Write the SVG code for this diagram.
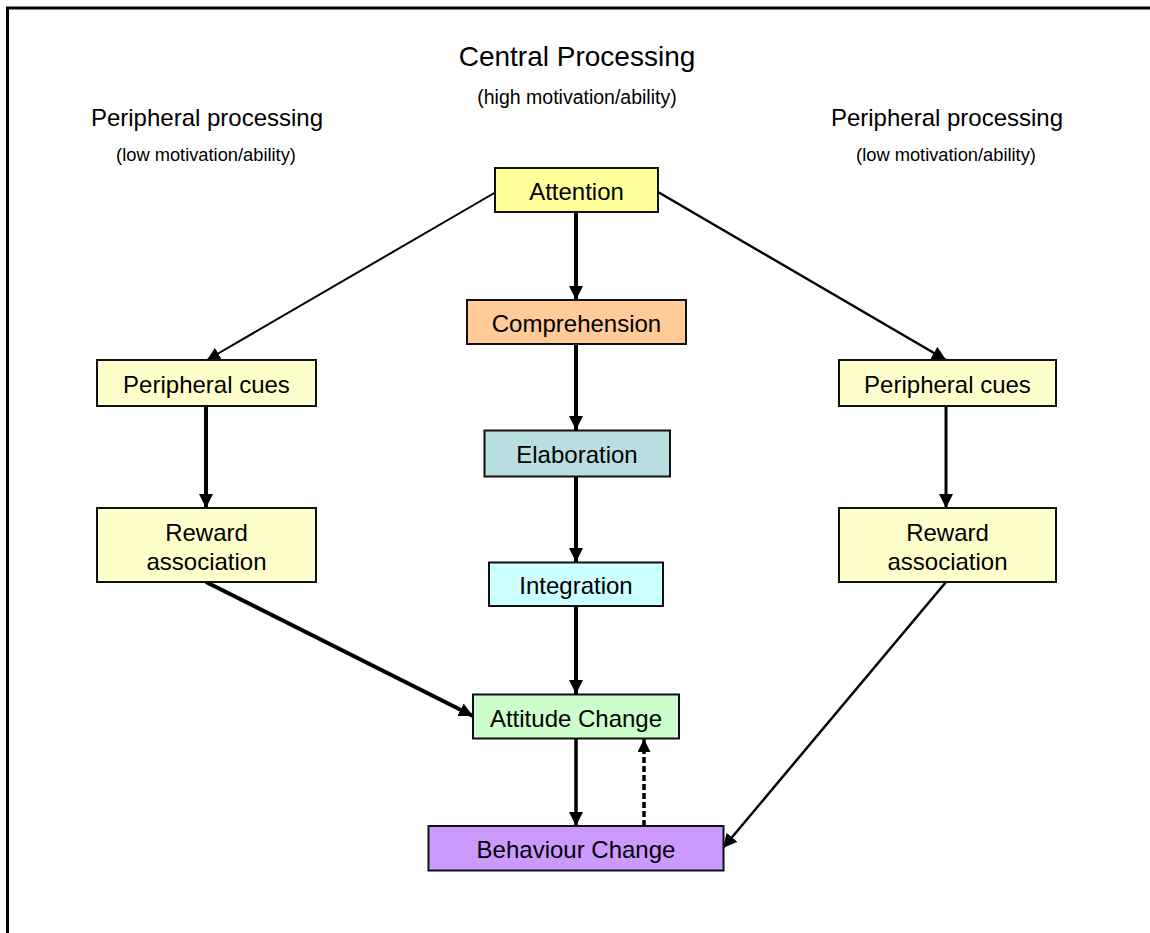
<svg xmlns="http://www.w3.org/2000/svg" width="1150" height="933" viewBox="0 0 1150 933">
<style>
  .box { stroke: #111; stroke-width: 2; }
  .t { font-family: "Liberation Sans", Arial, sans-serif; fill: #000; text-anchor: middle; }
  .node { font-size: 24px; }
  .head { font-size: 24px; }
  .title { font-size: 28px; }
  .sub { font-size: 18.3px; }
  .subh { font-size: 19.5px; }
  .c { stroke: #000; fill: none; }
</style>
<defs>
  <marker id="ah" viewBox="0 0 10 10" refX="10" refY="5" markerWidth="14" markerHeight="15" markerUnits="userSpaceOnUse" orient="auto">
    <path d="M0,0 L10,5 L0,10 Z" fill="#000"/>
  </marker>
  <marker id="ahs" viewBox="0 0 10 10" refX="10" refY="5" markerWidth="13" markerHeight="13" markerUnits="userSpaceOnUse" orient="auto">
    <path d="M0,0 L10,5 L0,10 Z" fill="#000"/>
  </marker>
</defs>
<rect width="1150" height="933" fill="#fff"/>
<path d="M7.5,933 V8 H1150" fill="none" stroke="#000" stroke-width="3"/>

<g id="labels">
  <text class="t title" x="577" y="66">Central Processing</text>
  <text class="t subh" x="577" y="104">(high motivation/ability)</text>
  <text class="t head" x="207" y="126">Peripheral processing</text>
  <text class="t sub" x="206" y="161">(low motivation/ability)</text>
  <text class="t head" x="947" y="126">Peripheral processing</text>
  <text class="t sub" x="946" y="161">(low motivation/ability)</text>
</g>

<g id="connectors">
  <line class="c" x1="576" y1="212" x2="576" y2="300" stroke-width="4" marker-end="url(#ah)"/>
  <line class="c" x1="576" y1="344" x2="576" y2="430" stroke-width="4" marker-end="url(#ah)"/>
  <line class="c" x1="576" y1="477" x2="576" y2="562" stroke-width="4" marker-end="url(#ah)"/>
  <line class="c" x1="576" y1="606" x2="576" y2="694" stroke-width="4" marker-end="url(#ah)"/>
  <line class="c" x1="576" y1="738" x2="576" y2="826" stroke-width="3.5" marker-end="url(#ah)"/>
  <line class="c" x1="644" y1="826" x2="644" y2="739" stroke-width="3.5" stroke-dasharray="6,3" marker-end="url(#ahs)"/>
  <line class="c" x1="496" y1="192" x2="207" y2="360" stroke-width="2" marker-end="url(#ahs)"/>
  <line class="c" x1="658" y1="192" x2="946" y2="360" stroke-width="2.5" marker-end="url(#ah)"/>
  <line class="c" x1="206" y1="406" x2="206" y2="508" stroke-width="4" marker-end="url(#ah)"/>
  <line class="c" x1="946" y1="406" x2="946" y2="508" stroke-width="3" marker-end="url(#ah)"/>
  <line class="c" x1="206" y1="582" x2="473" y2="716" stroke-width="4" marker-end="url(#ah)"/>
  <line class="c" x1="946" y1="582" x2="723" y2="848" stroke-width="2.5" marker-end="url(#ah)"/>
</g>

<g id="attention">
  <rect class="box" x="495" y="168" width="163" height="44" fill="#FFFF99"/>
  <text class="t node" x="576.5" y="200">Attention</text>
</g>
<g id="comprehension">
  <rect class="box" x="467" y="300" width="219" height="44" fill="#FFCC99"/>
  <text class="t node" x="576.5" y="331.5">Comprehension</text>
</g>
<g id="elaboration">
  <rect class="box" x="484.5" y="430.5" width="185.5" height="46" fill="#B9DEE0"/>
  <text class="t node" x="577" y="463">Elaboration</text>
</g>
<g id="integration">
  <rect class="box" x="489" y="562.5" width="174" height="43.5" fill="#CCFFFF"/>
  <text class="t node" x="576" y="594">Integration</text>
</g>
<g id="attitude-change">
  <rect class="box" x="473" y="694.5" width="206" height="44" fill="#CCFFCC"/>
  <text class="t node" x="576" y="726.5">Attitude Change</text>
</g>
<g id="behaviour-change">
  <rect class="box" x="428.5" y="826" width="295" height="44.5" fill="#CC99FF"/>
  <text class="t node" x="576" y="858">Behaviour Change</text>
</g>
<g id="peripheral-cues-left">
  <rect class="box" x="97" y="360" width="219" height="46" fill="#FFFFCC"/>
  <text class="t node" x="206.5" y="393">Peripheral cues</text>
</g>
<g id="reward-association-left">
  <rect class="box" x="97" y="508" width="219" height="74" fill="#FFFFCC"/>
  <text class="t node" x="206.5" y="541">Reward</text>
  <text class="t node" x="206.5" y="569.5">association</text>
</g>
<g id="peripheral-cues-right">
  <rect class="box" x="839" y="360" width="217" height="46" fill="#FFFFCC"/>
  <text class="t node" x="947.5" y="393">Peripheral cues</text>
</g>
<g id="reward-association-right">
  <rect class="box" x="839" y="508" width="217" height="74" fill="#FFFFCC"/>
  <text class="t node" x="947.5" y="541">Reward</text>
  <text class="t node" x="947.5" y="569.5">association</text>
</g>
</svg>
